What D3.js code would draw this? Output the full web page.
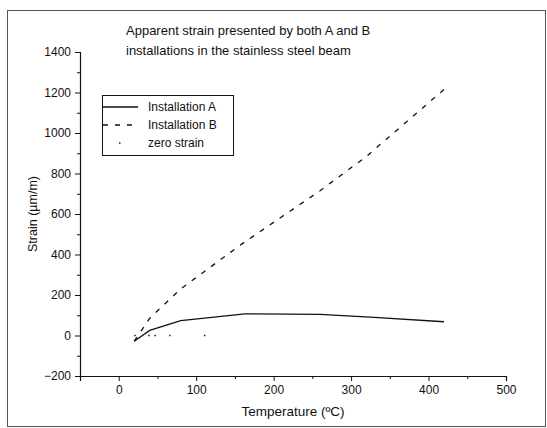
<!DOCTYPE html>
<html>
<head>
<meta charset="utf-8">
<script src="https://cdnjs.cloudflare.com/ajax/libs/d3/7.8.5/d3.min.js"></script>
<style>
  body { margin: 0; background: #fff; }
  text { font-family: "Liberation Sans", Arial, sans-serif; fill: #111; }
</style>
</head>
<body>
<div id="chart"></div>
<script>
// series
var tempA = [20, 40, 80, 163, 260, 330, 420];
var strainA = [-28, 25, 73, 107, 104, 90, 68];
var tempB = [20, 40, 80, 160, 260, 320, 420];
var strainB = [-28, 85, 230, 455, 715, 885, 1215];
var tempZero = [21, 39, 47, 66, 111];
var strainZero = [0, 0, 0, 0, 0];

var xTicks = [0, 100, 200, 300, 400, 500];
var yTicks = [-200, 0, 200, 400, 600, 800, 1000, 1200, 1400];
var legendNames = ["Installation A", "Installation B", "zero strain"];
var titleLines = ["Apparent strain presented by both A and B",
                  "installations in the stainless steel beam"];

var width = 547,
    height = 428;

var svg = d3.select("#chart")
    .append("svg")
    .attr("width", width)
    .attr("height", height);

// scanned page frame
svg.append("rect")
    .attr("x", 7.5).attr("y", 10.5)
    .attr("width", 538).attr("height", 416)
    .attr("fill", "none")
    .attr("stroke", "#555")
    .attr("stroke-width", 1);

var x = d3.scaleLinear().domain([-50, 500]).range([80, 506]);
var y = d3.scaleLinear().domain([-200, 1400]).range([376, 52]);

/* ------- AXES -------*/
svg.append("g")
    .attr("transform", "translate(0," + y(-200) + ")")
    .call(d3.axisBottom(x).tickValues(xTicks).tickSize(5).tickPadding(4).tickFormat(d3.format("d")));

svg.append("g")
    .attr("transform", "translate(0," + y(-200) + ")")
    .call(d3.axisBottom(x).tickValues(d3.range(-50, 501, 50).filter(function (d) { return d % 100 !== 0; }))
        .tickSize(3).tickFormat(""))
    .select(".domain").remove();

svg.append("g")
    .attr("transform", "translate(" + x(-50) + ",0)")
    .call(d3.axisLeft(y).tickValues(yTicks).tickSize(5).tickPadding(4).tickFormat(d3.format("d")));

svg.append("g")
    .attr("transform", "translate(" + x(-50) + ",0)")
    .call(d3.axisLeft(y).tickValues(d3.range(-100, 1400, 200)).tickSize(3).tickFormat(""))
    .select(".domain").remove();

svg.selectAll(".domain").attr("stroke", "#111").attr("stroke-width", 1.2);
svg.selectAll(".tick line").attr("stroke", "#111");
svg.selectAll(".tick text").attr("font-size", 12)
    .style("font-family", "'Liberation Sans', Arial, sans-serif").attr("fill", "#111");

svg.append("text")
    .attr("x", 293).attr("y", 416)
    .attr("text-anchor", "middle")
    .attr("font-size", 13.5)
    .text("Temperature (ºC)");

svg.append("text")
    .attr("transform", "translate(37,214) rotate(-90)")
    .attr("text-anchor", "middle")
    .attr("font-size", 12.5)
    .text("Strain (µm/m)");

svg.selectAll(".title")
    .data(titleLines)
    .enter()
    .append("text")
    .attr("class", "title")
    .attr("x", 126)
    .attr("y", function (d, i) { return 35 + i * 20; })
    .attr("font-size", 13)
    .text(function (d) { return d; });

/* ------- LINES -------*/
var line = d3.line()
    .x(function (d) { return x(d[0]); })
    .y(function (d) { return y(d[1]); });

svg.append("path")
    .datum(d3.zip(tempA, strainA))
    .attr("d", line)
    .attr("fill", "none")
    .attr("stroke", "#111")
    .attr("stroke-width", 1.3);

svg.append("path")
    .datum(d3.zip(tempB, strainB))
    .attr("d", line)
    .attr("fill", "none")
    .attr("stroke", "#111")
    .attr("stroke-width", 1.3)
    .attr("stroke-dasharray", "5,7");

svg.selectAll(".zero")
    .data(d3.zip(tempZero, strainZero))
    .enter()
    .append("rect")
    .attr("class", "zero")
    .attr("x", function (d) { return x(d[0]) - 0.75; })
    .attr("y", function (d) { return y(d[1]) - 0.75; })
    .attr("width", 1.5).attr("height", 1.5)
    .attr("fill", "#222");

/* ------- LEGEND -------*/
var legend = svg.append("g");
legend.append("rect")
    .attr("x", 102.5).attr("y", 95.5)
    .attr("width", 131).attr("height", 60)
    .attr("fill", "none")
    .attr("stroke", "#111");

var rowY = [107, 125, 143];
legendNames.forEach(function (name, i) {
    if (i < 2) {
        legend.append("line")
            .attr("x1", 103).attr("x2", 138)
            .attr("y1", rowY[i]).attr("y2", rowY[i])
            .attr("stroke", "#111")
            .attr("stroke-width", 1.3)
            .attr("stroke-dasharray", i === 1 ? "5,7" : null);
    } else {
        legend.append("rect")
            .attr("x", 119).attr("y", rowY[i] - 0.75)
            .attr("width", 1.5).attr("height", 1.5)
            .attr("fill", "#222");
    }
    legend.append("text")
        .attr("x", 148).attr("y", rowY[i] + 4)
        .attr("font-size", 12)
        .text(name);
});
</script>
</body>
</html>
